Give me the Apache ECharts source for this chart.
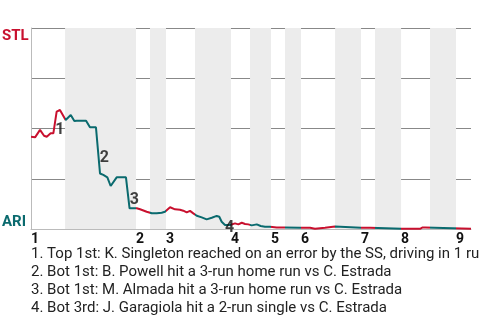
<!DOCTYPE html>
<html>
<head>
<meta charset="utf-8">
<script src="https://cdn.jsdelivr.net/npm/echarts@6/dist/echarts.min.js"></script>
<style>
html,body{margin:0;padding:0;background:#fff;}
#c{width:480px;height:320px;}
</style>
</head>
<body>
<div id="c"></div>
<script>
// ---- data (x = pitch of the game, y = STL win probability %) ----
const innings = ['1','2','3','4','5','6','7','8','9'];
const inningStart = [0, 70, 90, 133.3, 160, 180, 220, 246.7, 283.3];
const bottomStart = [22.7, 79.3, 109.3, 146, 169.3, 202.7, 229.3, 266, null];
const gameEnd = 293.3;

const pitchIdx = [0,2.7,6,8.7,10.5,13.1,14.9,17.1,19.3,20.5,23.1,26.5,28.9,30.5,36.7,39.3,43.3,46,48.2,50.9,53.1,57.1,63.3,65.7,70.5,72.7,77.1,80.5,83.8,87.1,89.3,92.7,96,99.3,101.5,103.8,106,108.2,110.5,113.8,117.1,120.5,123.8,125.5,127.1,129.3,132.7,133.8,136,138.2,140.5,142.7,144.9,147.1,150.5,153.1,156,159.3,160.5,163.8,169.3,179.3,186,187.1,189.3,190.5,196,197.1,202.7,203.3,220,226,227.1,247.1,259.3,261.1,262.7,263.8,293.3];
const stlWinPct = [45.9,45.6,49.3,46.4,45.9,47.6,47.6,58.4,59.2,58.4,54.2,56.7,53.7,53.9,53.9,50.6,50.6,27.6,26.9,25.7,21.4,25.7,25.7,10.3,10.3,9.8,8.6,7.8,7.8,8.1,8.6,10.8,9.8,9.6,9.1,8.3,9.0,7.8,6.6,5.8,4.8,5.6,6.5,6.1,3.6,2.0,2.0,2.5,2.8,2.3,3.1,2.5,2.3,1.8,2.3,1.5,1.1,1.1,1.5,0.8,0.8,0.6,0.6,0.1,0.1,0.6,0.6,1.3,1.3,0.6,0.6,0.6,0.1,0.1,0.1,0.8,0.8,0.1,0.1];

const eventLabels = ['1','2','3','4'];
const eventX = [19.2, 48.9, 68.9, 132.3];
const eventY = [49.3, 35.3, 14.4, 0.5];
const eventTexts = [
  '1. Top 1st: K. Singleton reached on an error by the SS, driving in 1 run',
  '2. Bot 1st: B. Powell hit a 3-run home run vs C. Estrada',
  '3. Bot 1st: M. Almada hit a 3-run home run vs C. Estrada',
  '4. Bot 3rd: J. Garagiola hit a 2-run single vs C. Estrada'
];
const awayTeam = 'STL', homeTeam = 'ARI';
const awayColor = '#C8102E', homeColor = '#0A6A6E';

// ---- build ----
const lineData = pitchIdx.map((x, i) => [x, stlWinPct[i]]);
const pieces = [];
const bands = [];
for (let i = 0; i < innings.length; i++) {
  const next = i + 1 < innings.length ? inningStart[i + 1] : gameEnd;
  const bs = bottomStart[i];
  if (bs == null) {
    pieces.push({gte: inningStart[i], lte: next + 1, color: awayColor});
  } else {
    pieces.push({gte: inningStart[i], lt: bs, color: awayColor});
    pieces.push({gte: bs, lt: next, color: homeColor});
    bands.push([{xAxis: bs}, {xAxis: next}]);
  }
}

const chart = echarts.init(document.getElementById('c'), null, {renderer: 'canvas'});
const font = 'Roboto, "Liberation Sans", sans-serif';
chart.setOption({
  animation: false,
  backgroundColor: '#fff',
  textStyle: {fontFamily: font},
  grid: {left: 31, right: 9, top: 28, bottom: 91},
  xAxis: {
    type: 'value', min: 0, max: gameEnd,
    axisLine: {show: true, lineStyle: {color: '#bbb', width: 1}},
    axisTick: {show: false},
    splitLine: {show: false},
    axisLabel: {
      customValues: inningStart,
      formatter: v => innings[inningStart.indexOf(v)] || '',
      align: 'left', margin: 3,
      fontFamily: font, fontSize: 14, fontWeight: 'bold', color: '#111',
      showMinLabel: true, showMaxLabel: true, hideOverlap: false
    }
  },
  yAxis: {
    type: 'value', min: 0, max: 100, interval: 25,
    axisLine: {show: true, lineStyle: {color: '#bbb'}},
    axisTick: {show: false},
    axisLabel: {show: false},
    splitLine: {show: true, lineStyle: {color: ['rgba(0,0,0,0)', '#888', '#888', '#888', '#888'], width: 1}}
  },
  visualMap: {
    show: false, type: 'piecewise', dimension: 0, seriesIndex: 0, pieces: pieces
  },
  series: [
    {
      type: 'line', data: lineData, showSymbol: false, clip: false,
      lineStyle: {width: 2},
      z: 3,
      markArea: {silent: true, itemStyle: {color: '#ececec'}, data: bands}
    },
    {
      type: 'scatter', symbolSize: 0, z: 5,
      data: eventX.map((x, i) => ({value: [x, eventY[i]], name: eventLabels[i]})),
      label: {show: true, position: 'inside', formatter: p => p.name,
        fontFamily: font, fontSize: 16, fontWeight: 'bold', color: '#111'}
    }
  ],
  graphic: [
    {type: 'text', left: 2, top: 29, style: {text: awayTeam, font: 'bold 15px ' + font, fill: awayColor}},
    {type: 'text', left: 2, top: 215, style: {text: homeTeam, font: 'bold 15px ' + font, fill: homeColor}}
  ].concat(eventTexts.map((t, i) => ({
    type: 'text', x: 31, y: 254 + i * 18,
    style: {text: t, font: '15px ' + font, fill: '#222', textVerticalAlign: 'middle'}
  })))
});
</script>
</body>
</html>
